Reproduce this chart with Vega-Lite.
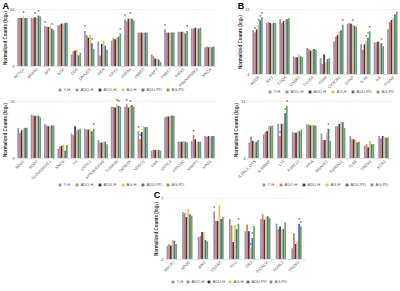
{
"$schema":"https://vega.github.io/schema/vega-lite/v6.json",
"padding":{"left":2,"top":2,"right":0,"bottom":0},
"background":"white",
"config":{
 "font":"Liberation Sans",
 "view":{"stroke":null},
 "axisY":{"grid":true,"gridColor":"#e2e2e2","gridWidth":0.5,"domain":false,"ticks":false,"labelFontSize":4,"labelColor":"#555","labelPadding":2,"labelOverlap":false,"titleFontSize":4.5,"titleColor":"#333","titleFontWeight":"bold","titlePadding":2},
 "axisX":{"domain":true,"domainColor":"#cfcfcf","domainWidth":0.5,"ticks":false,"labelAngle":-45,"labelFontSize":4,"labelColor":"#555","labelPadding":1,"labelOverlap":false,"title":null},
 "legend":{"orient":"none","direction":"horizontal","labelFontSize":4,"labelColor":"#555","symbolSize":8,"symbolType":"square","symbolStrokeWidth":0,"columnPadding":4,"padding":0,"labelOffset":1.5,"legendY":79},
 "title":{"fontSize":9,"fontWeight":"bold","anchor":"start","frame":"bounds","offset":-4,"color":"#000"}
},
"datasets":{
"a1":[
{"gene":"ACTG1","group":"Y-H","value":14.9},{"gene":"ACTG1","group":"ADO-H","value":14.9},{"gene":"ACTG1","group":"ADU-H","value":14.9},{"gene":"ACTG1","group":"AG-H","value":15.1,"sig":"*"},{"gene":"ACTG1","group":"ADU-PD","value":14.9},{"gene":"ACTG1","group":"AG-PD","value":14.9},
{"gene":"ANXA2","group":"Y-H","value":14.9},{"gene":"ANXA2","group":"ADO-H","value":14.9},{"gene":"ANXA2","group":"ADU-H","value":15.0,"sig":"*"},{"gene":"ANXA2","group":"AG-H","value":14.9},{"gene":"ANXA2","group":"ADU-PD","value":15.2,"sig":"*"},{"gene":"ANXA2","group":"AG-PD","value":15.1},
{"gene":"APP","group":"Y-H","value":13.9,"sig":"*"},{"gene":"APP","group":"ADO-H","value":13.8},{"gene":"APP","group":"ADU-H","value":13.8},{"gene":"APP","group":"AG-H","value":13.9},{"gene":"APP","group":"ADU-PD","value":13.6,"sig":"*"},{"gene":"APP","group":"AG-PD","value":13.4},
{"gene":"B2M","group":"Y-H","value":14.0},{"gene":"B2M","group":"ADO-H","value":14.1},{"gene":"B2M","group":"ADU-H","value":14.2},{"gene":"B2M","group":"AG-H","value":14.1},{"gene":"B2M","group":"ADU-PD","value":14.3},{"gene":"B2M","group":"AG-PD","value":14.3},
{"gene":"CD9","group":"Y-H","value":10.4},{"gene":"CD9","group":"ADO-H","value":10.8},{"gene":"CD9","group":"ADU-H","value":10.9},{"gene":"CD9","group":"AG-H","value":11.0},{"gene":"CD9","group":"ADU-PD","value":10.3},{"gene":"CD9","group":"AG-PD","value":10.6},
{"gene":"DNAJC6","group":"Y-H","value":13.3,"sig":"*"},{"gene":"DNAJC6","group":"ADO-H","value":12.8},{"gene":"DNAJC6","group":"ADU-H","value":12.5},{"gene":"DNAJC6","group":"AG-H","value":12.8},{"gene":"DNAJC6","group":"ADU-PD","value":11.8,"sig":"*"},{"gene":"DNAJC6","group":"AG-PD","value":11.1},
{"gene":"GBA","group":"Y-H","value":12.0},{"gene":"GBA","group":"ADO-H","value":10.3},{"gene":"GBA","group":"ADU-H","value":11.7},{"gene":"GBA","group":"AG-H","value":12.1},{"gene":"GBA","group":"ADU-PD","value":11.5},{"gene":"GBA","group":"AG-PD","value":11.0},
{"gene":"GPX1","group":"Y-H","value":12.1},{"gene":"GPX1","group":"ADO-H","value":12.4},{"gene":"GPX1","group":"ADU-H","value":12.3},{"gene":"GPX1","group":"AG-H","value":12.5},{"gene":"GPX1","group":"ADU-PD","value":12.6},{"gene":"GPX1","group":"AG-PD","value":13.0,"sig":"*"},
{"gene":"HSPA8","group":"Y-H","value":14.7,"sig":"*"},{"gene":"HSPA8","group":"ADO-H","value":14.5},{"gene":"HSPA8","group":"ADU-H","value":14.8},{"gene":"HSPA8","group":"AG-H","value":14.9,"sig":"*"},{"gene":"HSPA8","group":"ADU-PD","value":14.8},{"gene":"HSPA8","group":"AG-PD","value":14.6},
{"gene":"LRRK2","group":"Y-H","value":13.1},{"gene":"LRRK2","group":"ADO-H","value":13.1},{"gene":"LRRK2","group":"ADU-H","value":13.1},{"gene":"LRRK2","group":"AG-H","value":13.1},{"gene":"LRRK2","group":"ADU-PD","value":13.1},{"gene":"LRRK2","group":"AG-PD","value":13.1},
{"gene":"MAPT","group":"Y-H","value":10.4},{"gene":"MAPT","group":"ADO-H","value":10.2},{"gene":"MAPT","group":"ADU-H","value":9.9},{"gene":"MAPT","group":"AG-H","value":9.9},{"gene":"MAPT","group":"ADU-PD","value":9.8},{"gene":"MAPT","group":"AG-PD","value":9.5},
{"gene":"PARK7","group":"Y-H","value":13.5,"sig":"*"},{"gene":"PARK7","group":"ADO-H","value":13.1},{"gene":"PARK7","group":"ADU-H","value":13.1},{"gene":"PARK7","group":"AG-H","value":13.1},{"gene":"PARK7","group":"ADU-PD","value":13.1},{"gene":"PARK7","group":"AG-PD","value":13.1},
{"gene":"PINK1","group":"Y-H","value":13.2},{"gene":"PINK1","group":"ADO-H","value":13.2},{"gene":"PINK1","group":"ADU-H","value":13.2},{"gene":"PINK1","group":"AG-H","value":13.2},{"gene":"PINK1","group":"ADU-PD","value":13.0},{"gene":"PINK1","group":"AG-PD","value":13.3,"sig":"*"},
{"gene":"PRKN/PARK2","group":"Y-H","value":13.6},{"gene":"PRKN/PARK2","group":"ADO-H","value":13.6},{"gene":"PRKN/PARK2","group":"ADU-H","value":13.7},{"gene":"PRKN/PARK2","group":"AG-H","value":13.6},{"gene":"PRKN/PARK2","group":"ADU-PD","value":13.6},{"gene":"PRKN/PARK2","group":"AG-PD","value":13.7},
{"gene":"SNCA","group":"Y-H","value":11.3},{"gene":"SNCA","group":"ADO-H","value":11.4},{"gene":"SNCA","group":"ADU-H","value":11.3},{"gene":"SNCA","group":"AG-H","value":11.4},{"gene":"SNCA","group":"ADU-PD","value":11.3},{"gene":"SNCA","group":"AG-PD","value":11.4}
],
"a2":[
{"gene":"SOD1","group":"Y-H","value":12.7},{"gene":"SOD1","group":"ADO-H","value":12.1},{"gene":"SOD1","group":"ADU-H","value":12.4},{"gene":"SOD1","group":"AG-H","value":12.6},{"gene":"SOD1","group":"ADU-PD","value":12.7},{"gene":"SOD1","group":"AG-PD","value":12.7},
{"gene":"SOD2","group":"Y-H","value":14.3},{"gene":"SOD2","group":"ADO-H","value":14.2},{"gene":"SOD2","group":"ADU-H","value":14.2},{"gene":"SOD2","group":"AG-H","value":14.2},{"gene":"SOD2","group":"ADU-PD","value":14.2},{"gene":"SOD2","group":"AG-PD","value":14.0},
{"gene":"SLC6A3/DAT1","group":"Y-H","value":13.2},{"gene":"SLC6A3/DAT1","group":"ADO-H","value":13.0},{"gene":"SLC6A3/DAT1","group":"ADU-H","value":12.9},{"gene":"SLC6A3/DAT1","group":"AG-H","value":13.0},{"gene":"SLC6A3/DAT1","group":"ADU-PD","value":13.0},{"gene":"SLC6A3/DAT1","group":"AG-PD","value":13.0},
{"gene":"SNCB","group":"Y-H","value":10.1},{"gene":"SNCB","group":"ADO-H","value":10.4},{"gene":"SNCB","group":"ADU-H","value":10.5},{"gene":"SNCB","group":"AG-H","value":10.6},{"gene":"SNCB","group":"ADU-PD","value":9.9},{"gene":"SNCB","group":"AG-PD","value":10.6},
{"gene":"TH","group":"Y-H","value":12.0},{"gene":"TH","group":"ADO-H","value":11.8},{"gene":"TH","group":"ADU-H","value":12.9},{"gene":"TH","group":"AG-H","value":12.4},{"gene":"TH","group":"ADU-PD","value":12.5},{"gene":"TH","group":"AG-PD","value":12.6},
{"gene":"UCHL1","group":"Y-H","value":12.6},{"gene":"UCHL1","group":"ADO-H","value":12.5},{"gene":"UCHL1","group":"ADU-H","value":12.5},{"gene":"UCHL1","group":"AG-H","value":12.5},{"gene":"UCHL1","group":"ADU-PD","value":12.3},{"gene":"UCHL1","group":"AG-PD","value":12.6,"sig":"*"},
{"gene":"VPS35/EIF4G","group":"Y-H","value":11.2},{"gene":"VPS35/EIF4G","group":"ADO-H","value":10.9},{"gene":"VPS35/EIF4G","group":"ADU-H","value":10.9},{"gene":"VPS35/EIF4G","group":"AG-H","value":11.0},{"gene":"VPS35/EIF4G","group":"ADU-PD","value":11.0},{"gene":"VPS35/EIF4G","group":"AG-PD","value":10.7},
{"gene":"TUBA1B","group":"Y-H","value":15.3},{"gene":"TUBA1B","group":"ADO-H","value":15.3},{"gene":"TUBA1B","group":"ADU-H","value":15.2},{"gene":"TUBA1B","group":"AG-H","value":15.6,"sig":"*"},{"gene":"TUBA1B","group":"ADU-PD","value":15.4,"sig":"*"},{"gene":"TUBA1B","group":"AG-PD","value":15.3},
{"gene":"TMSB4X","group":"Y-H","value":15.3},{"gene":"TMSB4X","group":"ADO-H","value":15.6,"sig":"*"},{"gene":"TMSB4X","group":"ADU-H","value":15.2},{"gene":"TMSB4X","group":"AG-H","value":15.4,"sig":"*"},{"gene":"TMSB4X","group":"ADU-PD","value":15.5},{"gene":"TMSB4X","group":"AG-PD","value":15.3},
{"gene":"VDAC1","group":"Y-H","value":12.3,"sig":"*"},{"gene":"VDAC1","group":"ADO-H","value":11.3,"sig":"*"},{"gene":"VDAC1","group":"ADU-H","value":12.2},{"gene":"VDAC1","group":"AG-H","value":12.9},{"gene":"VDAC1","group":"ADU-PD","value":12.8},{"gene":"VDAC1","group":"AG-PD","value":12.8},
{"gene":"UBB","group":"Y-H","value":9.9},{"gene":"UBB","group":"ADO-H","value":10.0},{"gene":"UBB","group":"ADU-H","value":10.0},{"gene":"UBB","group":"AG-H","value":10.0},{"gene":"UBB","group":"ADU-PD","value":10.0},{"gene":"UBB","group":"AG-PD","value":9.9},
{"gene":"UCHL3","group":"Y-H","value":14.0},{"gene":"UCHL3","group":"ADO-H","value":14.1},{"gene":"UCHL3","group":"ADU-H","value":14.1},{"gene":"UCHL3","group":"AG-H","value":14.2},{"gene":"UCHL3","group":"ADU-PD","value":14.2},{"gene":"UCHL3","group":"AG-PD","value":14.2},
{"gene":"VPS13C","group":"Y-H","value":11.0},{"gene":"VPS13C","group":"ADO-H","value":11.0},{"gene":"VPS13C","group":"ADU-H","value":11.0},{"gene":"VPS13C","group":"AG-H","value":11.1},{"gene":"VPS13C","group":"ADU-PD","value":11.0},{"gene":"VPS13C","group":"AG-PD","value":10.9},
{"gene":"VAMP2","group":"Y-H","value":11.1},{"gene":"VAMP2","group":"ADO-H","value":11.8,"sig":"*"},{"gene":"VAMP2","group":"ADU-H","value":11.3},{"gene":"VAMP2","group":"AG-H","value":11.0},{"gene":"VAMP2","group":"ADU-PD","value":11.0},{"gene":"VAMP2","group":"AG-PD","value":11.0},
{"gene":"XPO1","group":"Y-H","value":11.7},{"gene":"XPO1","group":"ADO-H","value":11.6},{"gene":"XPO1","group":"ADU-H","value":11.7},{"gene":"XPO1","group":"AG-H","value":11.6},{"gene":"XPO1","group":"ADU-PD","value":11.7},{"gene":"XPO1","group":"AG-PD","value":11.7}
],
"b1":[
{"gene":"AGER","group":"Y-H","value":8.7},{"gene":"AGER","group":"ADO-H","value":8.5,"sig":"*"},{"gene":"AGER","group":"ADU-H","value":8.8},{"gene":"AGER","group":"AG-H","value":9.3,"sig":"*"},{"gene":"AGER","group":"ADU-PD","value":9.8,"sig":"*"},{"gene":"AGER","group":"AG-PD","value":10.1,"sig":"*"},
{"gene":"AIF1","group":"Y-H","value":9.5},{"gene":"AIF1","group":"ADO-H","value":9.6},{"gene":"AIF1","group":"ADU-H","value":9.5},{"gene":"AIF1","group":"AG-H","value":9.4},{"gene":"AIF1","group":"ADU-PD","value":9.5},{"gene":"AIF1","group":"AG-PD","value":9.5},
{"gene":"C1QA","group":"Y-H","value":9.9},{"gene":"C1QA","group":"ADO-H","value":9.5},{"gene":"C1QA","group":"ADU-H","value":9.7},{"gene":"C1QA","group":"AG-H","value":9.9},{"gene":"C1QA","group":"ADU-PD","value":9.9},{"gene":"C1QA","group":"AG-PD","value":10.0},
{"gene":"C3AR1","group":"Y-H","value":5.9},{"gene":"C3AR1","group":"ADO-H","value":5.8},{"gene":"C3AR1","group":"ADU-H","value":5.8},{"gene":"C3AR1","group":"AG-H","value":6.1},{"gene":"C3AR1","group":"ADU-PD","value":5.9},{"gene":"C3AR1","group":"AG-PD","value":5.8},
{"gene":"CD163","group":"Y-H","value":6.8},{"gene":"CD163","group":"ADO-H","value":6.7},{"gene":"CD163","group":"ADU-H","value":6.5},{"gene":"CD163","group":"AG-H","value":6.6},{"gene":"CD163","group":"ADU-PD","value":6.7},{"gene":"CD163","group":"AG-PD","value":6.6},
{"gene":"CD68","group":"Y-H","value":5.7},{"gene":"CD68","group":"ADO-H","value":5.1},{"gene":"CD68","group":"ADU-H","value":6.1},{"gene":"CD68","group":"AG-H","value":5.3},{"gene":"CD68","group":"ADU-PD","value":5.6},{"gene":"CD68","group":"AG-PD","value":5.7},
{"gene":"CX3CR1","group":"Y-H","value":7.5},{"gene":"CX3CR1","group":"ADO-H","value":8.0},{"gene":"CX3CR1","group":"ADU-H","value":8.2},{"gene":"CX3CR1","group":"AG-H","value":8.6},{"gene":"CX3CR1","group":"ADU-PD","value":8.7},{"gene":"CX3CR1","group":"AG-PD","value":9.3,"sig":"*"},
{"gene":"GFAP","group":"Y-H","value":9.4},{"gene":"GFAP","group":"ADO-H","value":9.5},{"gene":"GFAP","group":"ADU-H","value":9.4},{"gene":"GFAP","group":"AG-H","value":9.3,"sig":"*"},{"gene":"GFAP","group":"ADU-PD","value":9.2},{"gene":"GFAP","group":"AG-PD","value":9.1},
{"gene":"IL1B","group":"Y-H","value":7.2},{"gene":"IL1B","group":"ADO-H","value":6.6},{"gene":"IL1B","group":"ADU-H","value":7.2},{"gene":"IL1B","group":"AG-H","value":7.6,"sig":"*"},{"gene":"IL1B","group":"ADU-PD","value":7.9,"sig":"*"},{"gene":"IL1B","group":"AG-PD","value":8.6,"sig":"*"},
{"gene":"IL6","group":"Y-H","value":7.4},{"gene":"IL6","group":"ADO-H","value":7.4},{"gene":"IL6","group":"ADU-H","value":7.5},{"gene":"IL6","group":"AG-H","value":7.4},{"gene":"IL6","group":"ADU-PD","value":7.3,"sig":"*"},{"gene":"IL6","group":"AG-PD","value":7.0},
{"gene":"ITGAM","group":"Y-H","value":8.8},{"gene":"ITGAM","group":"ADO-H","value":9.6},{"gene":"ITGAM","group":"ADU-H","value":9.8},{"gene":"ITGAM","group":"AG-H","value":10.0},{"gene":"ITGAM","group":"ADU-PD","value":10.4},{"gene":"ITGAM","group":"AG-PD","value":10.7}
],
"b2":[
{"gene":"IL1RL1_OTS","group":"Y-H","value":5.9},{"gene":"IL1RL1_OTS","group":"ADO-H","value":6.6},{"gene":"IL1RL1_OTS","group":"ADU-H","value":6.1},{"gene":"IL1RL1_OTS","group":"AG-H","value":5.9},{"gene":"IL1RL1_OTS","group":"ADU-PD","value":6.0},{"gene":"IL1RL1_OTS","group":"AG-PD","value":6.2},
{"gene":"IL18RAP","group":"Y-H","value":6.9},{"gene":"IL18RAP","group":"ADO-H","value":7.2},{"gene":"IL18RAP","group":"ADU-H","value":7.3},{"gene":"IL18RAP","group":"AG-H","value":8.0},{"gene":"IL18RAP","group":"ADU-PD","value":7.9},{"gene":"IL18RAP","group":"AG-PD","value":8.0},
{"gene":"LTF","group":"Y-H","value":8.2},{"gene":"LTF","group":"ADO-H","value":6.7,"sig":"*"},{"gene":"LTF","group":"ADU-H","value":8.2},{"gene":"LTF","group":"AG-H","value":8.2},{"gene":"LTF","group":"ADU-PD","value":9.5,"sig":"*"},{"gene":"LTF","group":"AG-PD","value":10.4,"sig":"*"},
{"gene":"P2RY12","group":"Y-H","value":7.2},{"gene":"P2RY12","group":"ADO-H","value":7.1},{"gene":"P2RY12","group":"ADU-H","value":7.1},{"gene":"P2RY12","group":"AG-H","value":7.3},{"gene":"P2RY12","group":"ADU-PD","value":7.3},{"gene":"P2RY12","group":"AG-PD","value":7.5},
{"gene":"PPIA","group":"Y-H","value":8.1},{"gene":"PPIA","group":"ADO-H","value":8.1},{"gene":"PPIA","group":"ADU-H","value":8.0},{"gene":"PPIA","group":"AG-H","value":8.1},{"gene":"PPIA","group":"ADU-PD","value":8.0},{"gene":"PPIA","group":"AG-PD","value":8.0},
{"gene":"RNASE2","group":"Y-H","value":7.0},{"gene":"RNASE2","group":"ADO-H","value":6.2},{"gene":"RNASE2","group":"ADU-H","value":6.2},{"gene":"RNASE2","group":"AG-H","value":7.1},{"gene":"RNASE2","group":"ADU-PD","value":7.6,"sig":"*"},{"gene":"RNASE2","group":"AG-PD","value":6.1},
{"gene":"S100A12","group":"Y-H","value":7.9},{"gene":"S100A12","group":"ADO-H","value":7.9},{"gene":"S100A12","group":"ADU-H","value":8.2},{"gene":"S100A12","group":"AG-H","value":8.4},{"gene":"S100A12","group":"ADU-PD","value":8.4},{"gene":"S100A12","group":"AG-PD","value":7.7},
{"gene":"TLR8","group":"Y-H","value":6.7},{"gene":"TLR8","group":"ADO-H","value":6.3},{"gene":"TLR8","group":"ADU-H","value":6.3},{"gene":"TLR8","group":"AG-H","value":6.2},{"gene":"TLR8","group":"ADU-PD","value":5.9},{"gene":"TLR8","group":"AG-PD","value":6.0},
{"gene":"TREM1","group":"Y-H","value":5.5},{"gene":"TREM1","group":"ADO-H","value":5.7},{"gene":"TREM1","group":"ADU-H","value":5.3},{"gene":"TREM1","group":"AG-H","value":6.1},{"gene":"TREM1","group":"ADU-PD","value":5.7},{"gene":"TREM1","group":"AG-PD","value":5.7},
{"gene":"XCR1","group":"Y-H","value":6.7},{"gene":"XCR1","group":"ADO-H","value":6.4},{"gene":"XCR1","group":"ADU-H","value":6.7},{"gene":"XCR1","group":"AG-H","value":6.6},{"gene":"XCR1","group":"ADU-PD","value":6.5},{"gene":"XCR1","group":"AG-PD","value":6.5}
],
"c":[
{"gene":"ABCA7","group":"Y-H","value":2.95},{"gene":"ABCA7","group":"ADO-H","value":3.1},{"gene":"ABCA7","group":"ADU-H","value":3.0},{"gene":"ABCA7","group":"AG-H","value":3.4},{"gene":"ABCA7","group":"ADU-PD","value":3.35},{"gene":"ABCA7","group":"AG-PD","value":3.1},
{"gene":"APOE","group":"Y-H","value":5.45},{"gene":"APOE","group":"ADO-H","value":5.4},{"gene":"APOE","group":"ADU-H","value":5.1},{"gene":"APOE","group":"AG-H","value":5.7},{"gene":"APOE","group":"ADU-PD","value":5.3},{"gene":"APOE","group":"AG-PD","value":5.2},
{"gene":"BIN1","group":"Y-H","value":3.6},{"gene":"BIN1","group":"ADO-H","value":3.7},{"gene":"BIN1","group":"ADU-H","value":4.0},{"gene":"BIN1","group":"AG-H","value":4.0},{"gene":"BIN1","group":"ADU-PD","value":3.4},{"gene":"BIN1","group":"AG-PD","value":3.3},
{"gene":"CD2AP","group":"Y-H","value":5.5,"sig":"*"},{"gene":"CD2AP","group":"ADO-H","value":4.8},{"gene":"CD2AP","group":"ADU-H","value":4.8},{"gene":"CD2AP","group":"AG-H","value":5.95},{"gene":"CD2AP","group":"ADU-PD","value":4.95},{"gene":"CD2AP","group":"AG-PD","value":5.1},
{"gene":"CLU","group":"Y-H","value":4.95},{"gene":"CLU","group":"ADO-H","value":4.5},{"gene":"CLU","group":"ADU-H","value":3.25},{"gene":"CLU","group":"AG-H","value":4.5},{"gene":"CLU","group":"ADU-PD","value":4.2},{"gene":"CLU","group":"AG-PD","value":4.6,"sig":"*"},
{"gene":"CR1","group":"Y-H","value":4.05},{"gene":"CR1","group":"ADO-H","value":4.55},{"gene":"CR1","group":"ADU-H","value":4.05},{"gene":"CR1","group":"AG-H","value":2.8,"sig":"*"},{"gene":"CR1","group":"ADU-PD","value":3.55,"sig":"*"},{"gene":"CR1","group":"AG-PD","value":4.45},
{"gene":"PICALM","group":"Y-H","value":4.95},{"gene":"PICALM","group":"ADO-H","value":5.3},{"gene":"PICALM","group":"ADU-H","value":4.9},{"gene":"PICALM","group":"AG-H","value":5.15},{"gene":"PICALM","group":"ADU-PD","value":5.15},{"gene":"PICALM","group":"AG-PD","value":5.0},
{"gene":"SORL1","group":"Y-H","value":4.6},{"gene":"SORL1","group":"ADO-H","value":4.2},{"gene":"SORL1","group":"ADU-H","value":4.4},{"gene":"SORL1","group":"AG-H","value":4.2},{"gene":"SORL1","group":"ADU-PD","value":4.2},{"gene":"SORL1","group":"AG-PD","value":4.7},
{"gene":"TREM2","group":"Y-H","value":2.8},{"gene":"TREM2","group":"ADO-H","value":3.9},{"gene":"TREM2","group":"ADU-H","value":3.1},{"gene":"TREM2","group":"AG-H","value":3.3},{"gene":"TREM2","group":"ADU-PD","value":4.6,"sig":"*"},{"gene":"TREM2","group":"AG-PD","value":4.4,"sig":"*"}
]
},
"resolve":{"scale":{"color":"independent"},"legend":{"color":"independent"}},
"spacing":4,
"vconcat":[
{"hconcat":[
 {"width":200,"height":57,"data":{"name":"a1"},"title":{"text":"A"},
  "layer":[
   {"mark":{"type":"bar","clip":true},"encoding":{
    "x":{"field":"gene","type":"nominal","sort":null,"scale":{"paddingInner":0.22,"paddingOuter":0.1}},
    "xOffset":{"field":"group","type":"nominal","sort":["Y-H","ADO-H","ADU-H","AG-H","ADU-PD","AG-PD"]},
    "y":{"field":"value","type":"quantitative","scale":{"domain":[9,16],"nice":false,"zero":false},"axis":{"title":"Normalized Counts (log₂)","values":[9,10,11,12,13,14,15,16]}},
    "color":{"field":"group","type":"nominal","scale":{"domain":["Y-H","ADO-H","ADU-H","AG-H","ADU-PD","AG-PD"],"range":["#7f9ad2","#e07b4f","#3b2f80","#f5c242","#4a6cc0","#6aab52"]},"legend":{"title":null,"legendX":42}}}},
   {"transform":[{"filter":"datum.sig"}],"mark":{"type":"text","fontSize":5,"dy":-0.5,"baseline":"bottom","color":"#2a2a5a"},"encoding":{
    "x":{"field":"gene","type":"nominal","sort":null},
    "xOffset":{"field":"group","type":"nominal","sort":["Y-H","ADO-H","ADU-H","AG-H","ADU-PD","AG-PD"]},
    "y":{"field":"value","type":"quantitative"},
    "text":{"field":"sig"}}}
  ]},
 {"width":148,"height":65,"data":{"name":"b1"},"title":{"text":"B"},
  "layer":[
   {"mark":{"type":"bar","clip":true},"encoding":{
    "x":{"field":"gene","type":"nominal","sort":null,"scale":{"paddingInner":0.22,"paddingOuter":0.1}},
    "xOffset":{"field":"group","type":"nominal","sort":["Y-H","ADO-H","ADU-H","AG-H","ADU-PD","AG-PD"]},
    "y":{"field":"value","type":"quantitative","scale":{"domain":[4,11],"nice":false,"zero":false},"axis":{"title":"Normalized Counts (log₂)","values":[4,5,6,7,8,9,10,11]}},
    "color":{"field":"group","type":"nominal","scale":{"domain":["Y-H","ADO-H","ADU-H","AG-H","ADU-PD","AG-PD"],"range":["#7f9ad2","#e07b4f","#3b2f80","#f5c242","#4a6cc0","#6aab52"]},"legend":{"title":null,"legendX":17,"legendY":81}}}},
   {"transform":[{"filter":"datum.sig"}],"mark":{"type":"text","fontSize":5,"dy":-0.5,"baseline":"bottom","color":"#2a2a5a"},"encoding":{
    "x":{"field":"gene","type":"nominal","sort":null},
    "xOffset":{"field":"group","type":"nominal","sort":["Y-H","ADO-H","ADU-H","AG-H","ADU-PD","AG-PD"]},
    "y":{"field":"value","type":"quantitative"},
    "text":{"field":"sig"}}}
  ]}
 ],"spacing":21,"resolve":{"scale":{"color":"independent"},"legend":{"color":"independent"}}},
{"hconcat":[
 {"width":200,"height":57,"data":{"name":"a2"},
  "layer":[
   {"mark":{"type":"bar","clip":true},"encoding":{
    "x":{"field":"gene","type":"nominal","sort":null,"scale":{"paddingInner":0.22,"paddingOuter":0.1}},
    "xOffset":{"field":"group","type":"nominal","sort":["Y-H","ADO-H","ADU-H","AG-H","ADU-PD","AG-PD"]},
    "y":{"field":"value","type":"quantitative","scale":{"domain":[9,16],"nice":false,"zero":false},"axis":{"title":"Normalized Counts (log₂)","values":[9,10,11,12,13,14,15,16]}},
    "color":{"field":"group","type":"nominal","scale":{"domain":["Y-H","ADO-H","ADU-H","AG-H","ADU-PD","AG-PD"],"range":["#7f9ad2","#e07b4f","#3b2f80","#f5c242","#4a6cc0","#6aab52"]},"legend":{"title":null,"legendX":42,"legendY":82}}}},
   {"transform":[{"filter":"datum.sig"}],"mark":{"type":"text","fontSize":5,"dy":-0.5,"baseline":"bottom","color":"#2a2a5a"},"encoding":{
    "x":{"field":"gene","type":"nominal","sort":null},
    "xOffset":{"field":"group","type":"nominal","sort":["Y-H","ADO-H","ADU-H","AG-H","ADU-PD","AG-PD"]},
    "y":{"field":"value","type":"quantitative"},
    "text":{"field":"sig"}}}
  ]},
 {"width":144,"height":57,"data":{"name":"b2"},
  "layer":[
   {"mark":{"type":"bar","clip":true},"encoding":{
    "x":{"field":"gene","type":"nominal","sort":null,"scale":{"paddingInner":0.22,"paddingOuter":0.1}},
    "xOffset":{"field":"group","type":"nominal","sort":["Y-H","ADO-H","ADU-H","AG-H","ADU-PD","AG-PD"]},
    "y":{"field":"value","type":"quantitative","scale":{"domain":[4,11],"nice":false,"zero":false},"axis":{"title":"Normalized Counts (log₂)","values":[4,5,6,7,8,9,10,11]}},
    "color":{"field":"group","type":"nominal","scale":{"domain":["Y-H","ADO-H","ADU-H","AG-H","ADU-PD","AG-PD"],"range":["#7f9ad2","#e07b4f","#3b2f80","#f5c242","#4a6cc0","#6aab52"]},"legend":{"title":null,"legendX":15,"legendY":82}}}},
   {"transform":[{"filter":"datum.sig"}],"mark":{"type":"text","fontSize":5,"dy":-0.5,"baseline":"bottom","color":"#2a2a5a"},"encoding":{
    "x":{"field":"gene","type":"nominal","sort":null},
    "xOffset":{"field":"group","type":"nominal","sort":["Y-H","ADO-H","ADU-H","AG-H","ADU-PD","AG-PD"]},
    "y":{"field":"value","type":"quantitative"},
    "text":{"field":"sig"}}}
  ]}
 ],"spacing":17,"resolve":{"scale":{"color":"independent"},"legend":{"color":"independent"}}},
{"hconcat":[
 {"width":137,"height":10,"data":{"values":[]},"mark":"point","encoding":{}},
 {"width":140,"height":61,"data":{"name":"c"},"title":{"text":"C"},
  "layer":[
   {"mark":{"type":"bar","clip":true},"encoding":{
    "x":{"field":"gene","type":"nominal","sort":null,"scale":{"paddingInner":0.22,"paddingOuter":0.1}},
    "xOffset":{"field":"group","type":"nominal","sort":["Y-H","ADO-H","ADU-H","AG-H","ADU-PD","AG-PD"]},
    "y":{"field":"value","type":"quantitative","scale":{"domain":[2,6.5],"nice":false,"zero":false},"axis":{"title":"Normalized Counts (log₂)","values":[2,2.5,3,3.5,4,4.5,5,5.5,6,6.5]}},
    "color":{"field":"group","type":"nominal","scale":{"domain":["Y-H","ADO-H","ADU-H","AG-H","ADU-PD","AG-PD"],"range":["#7f9ad2","#e07b4f","#3b2f80","#f5c242","#4a6cc0","#6aab52"]},"legend":{"title":null,"legendX":6,"legendY":82,"columnPadding":2}}}},
   {"transform":[{"filter":"datum.sig"}],"mark":{"type":"text","fontSize":5,"dy":-0.5,"baseline":"bottom","color":"#2a2a5a"},"encoding":{
    "x":{"field":"gene","type":"nominal","sort":null},
    "xOffset":{"field":"group","type":"nominal","sort":["Y-H","ADO-H","ADU-H","AG-H","ADU-PD","AG-PD"]},
    "y":{"field":"value","type":"quantitative"},
    "text":{"field":"sig"}}}
  ]}
 ],"spacing":0,"resolve":{"scale":{"color":"independent"},"legend":{"color":"independent"}}}
]
}
